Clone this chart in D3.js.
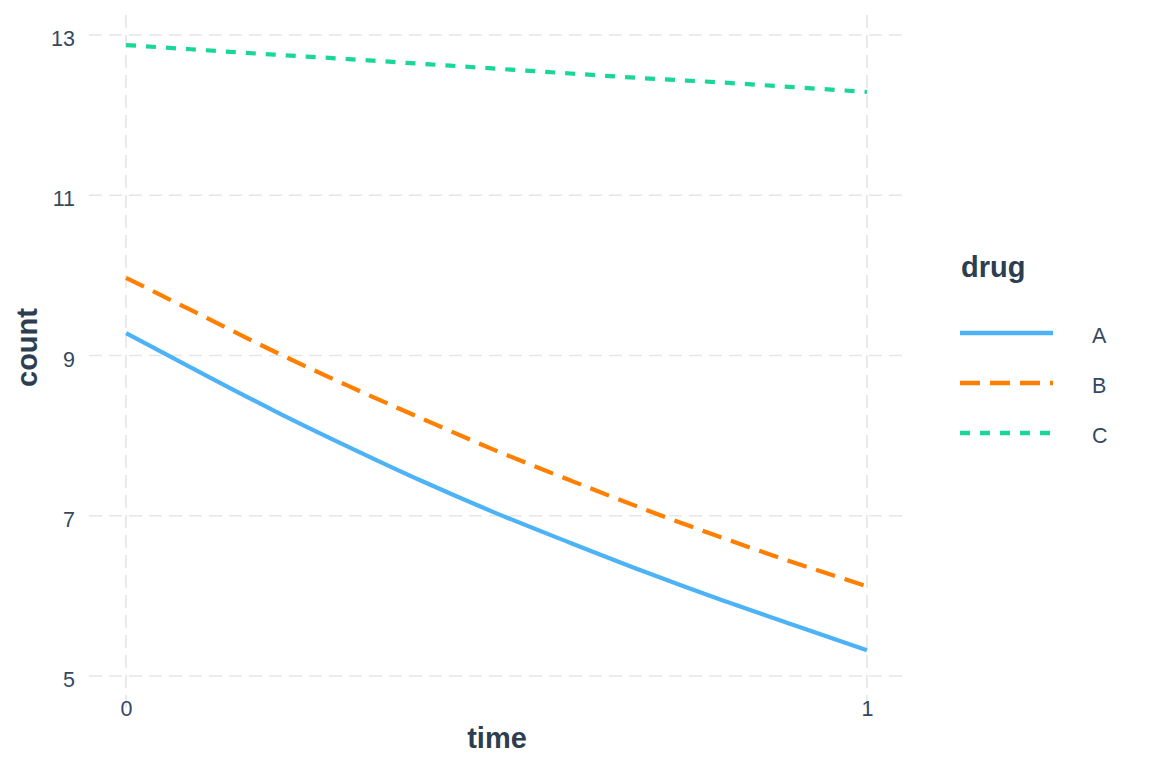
<!DOCTYPE html>
<html>
<head>
<meta charset="utf-8">
<script src="https://cdn.jsdelivr.net/npm/d3@7"></script>
<style>
html,body{margin:0;padding:0;background:#fff;}
svg{display:block;}
</style>
</head>
<body>
<svg id="chart" width="1152" height="768"></svg>
<script>
const timePoints = [0, 0.1, 0.2, 0.3, 0.4, 0.5, 0.6, 0.7, 0.8, 0.9, 1.0];
const drugs = ["A", "B", "C"];
const countA = [9.28, 8.79, 8.31, 7.86, 7.43, 7.03, 6.66, 6.30, 5.96, 5.64, 5.32];
const countB = [9.97, 9.51, 9.05, 8.62, 8.21, 7.81, 7.44, 7.08, 6.74, 6.42, 6.12];
const countC = [12.875, 12.815, 12.755, 12.70, 12.64, 12.58, 12.52, 12.46, 12.41, 12.35, 12.29];
const xTicks = [0, 1];
const yTicks = [5, 7, 9, 11, 13];

const colors = {A: "#4DB3F6", B: "#FF7F00", C: "#19D699"};
const dashes = {A: null, B: "20,10", C: "10,10"};
const seriesValues = {A: countA, B: countB, C: countC};

const svg = d3.select("#chart");
const panel = {left: 89, right: 904, top: 3, bottom: 708};

const x = d3.scaleLinear().domain([-0.05, 1.05]).range([panel.left, panel.right]);
const y = d3.scaleLinear().domain([4.6, 13.4]).range([panel.bottom, panel.top]);

const gridColor = "#e6e6e6";
const titleColor = "#2c3e50";
const tickColor = "#34495e";
const font = "'Liberation Sans', Arial, sans-serif";

// grid
svg.append("g").selectAll("line").data(yTicks).join("line")
  .attr("x1", panel.left).attr("x2", panel.right)
  .attr("y1", d => y(d)).attr("y2", d => y(d))
  .attr("stroke", gridColor).attr("stroke-width", 1.6).attr("stroke-dasharray", "13,7");
svg.append("g").selectAll("line").data(xTicks).join("line")
  .attr("y1", panel.bottom).attr("y2", panel.top + 8)
  .attr("x1", d => x(d)).attr("x2", d => x(d))
  .attr("stroke", gridColor).attr("stroke-width", 1.6).attr("stroke-dasharray", "13,7");

// axes (text only)
const yAxis = d3.axisLeft(y).tickValues(yTicks).tickSize(0).tickPadding(0);
const gy = svg.append("g").attr("transform", "translate(75,0)").call(yAxis);
gy.select(".domain").remove();
gy.selectAll("text").attr("font-family", font)
  .attr("font-size", 21.5).attr("fill", tickColor).attr("dy", 10.5);

const xAxis = d3.axisBottom(x).tickValues(xTicks).tickSize(0).tickPadding(0).tickFormat(d3.format("d"));
const gx = svg.append("g").attr("transform", "translate(0,715.5)").call(xAxis);
gx.select(".domain").remove();
gx.selectAll("text").attr("font-family", font)
  .attr("font-size", 21.5).attr("fill", tickColor).attr("dy", 0).attr("y", 0);

// axis titles
svg.append("text").attr("x", 497).attr("y", 748)
  .attr("text-anchor", "middle").attr("font-family", font)
  .attr("font-weight", "bold").attr("font-size", 29).attr("fill", titleColor).text("time");
svg.append("text").attr("transform", "translate(37,347.5) rotate(-90)")
  .attr("text-anchor", "middle").attr("font-family", font)
  .attr("font-weight", "bold").attr("font-size", 29).attr("fill", titleColor).text("count");

// lines
const line = d3.line().x((d, i) => x(timePoints[i])).y(d => y(d)).curve(d3.curveMonotoneX);
drugs.forEach(k => {
  svg.append("path").datum(seriesValues[k])
    .attr("d", line).attr("fill", "none")
    .attr("stroke", colors[k]).attr("stroke-width", 4.2)
    .attr("stroke-dasharray", dashes[k]);
});

// legend
const lg = svg.append("g");
lg.append("text").attr("x", 961).attr("y", 276.5).attr("font-family", font)
  .attr("font-weight", "bold").attr("font-size", 29).attr("fill", titleColor).text("drug");
const ly = d3.scalePoint().domain(drugs).range([333, 433]);
drugs.forEach(k => {
  lg.append("line").attr("x1", 960).attr("x2", 1053).attr("y1", ly(k)).attr("y2", ly(k))
    .attr("stroke", colors[k]).attr("stroke-width", 4.6).attr("stroke-dasharray", dashes[k]);
  lg.append("text").attr("x", 1092).attr("y", ly(k) + 10)
    .attr("font-family", font)
    .attr("font-size", 21.5).attr("fill", tickColor).text(k);
});
</script>
</body>
</html>
